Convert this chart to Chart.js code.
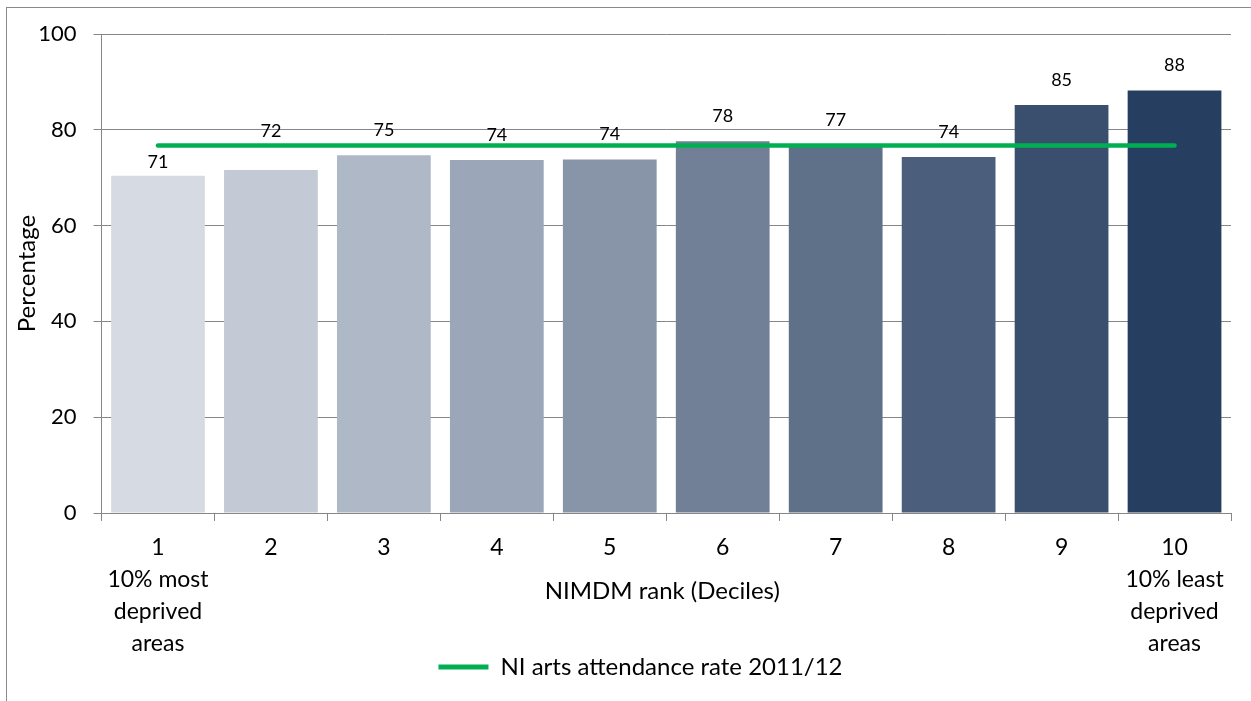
<!DOCTYPE html>
<html>
<head>
<meta charset="utf-8">
<script src="https://cdn.jsdelivr.net/npm/chart.js@4.4.1/dist/chart.umd.min.js"></script>
<style>
  html, body { margin: 0; padding: 0; background: #fff; overflow: hidden; }
  #frame { position: absolute; left: 6px; top: 7px; width: 1400px; height: 900px; border: 1px solid #8a8a8a; box-sizing: border-box; }
  #c { position: absolute; left: 0; top: 0; }
</style>
</head>
<body>
<div id="frame"></div>
<canvas id="c" width="1251" height="701"></canvas>
<script>
// ---- data ----
const categories = ['1', '2', '3', '4', '5', '6', '7', '8', '9', '10'];
const firstCategoryNote = ['10% most', 'deprived', 'areas'];
const lastCategoryNote = ['10% least', 'deprived', 'areas'];
const attendanceByDecile = [70.4, 71.6, 74.7, 73.7, 73.8, 77.6, 76.8, 74.3, 85.2, 88.2];
const valueLabels = ['71', '72', '75', '74', '74', '78', '77', '74', '85', '88'];
const niRate = 76.7;
const niRateLabel = 'NI arts attendance rate 2011/12';
const yTitle = 'Percentage';
const xTitle = 'NIMDM rank (Deciles)';
const yTicks = [0, 20, 40, 60, 80, 100];

// ---- styles ----
const barColors = ['#D6DBE3', '#C3CAD5', '#AEB8C6', '#9BA7B8', '#8895A9', '#718097', '#5F7089', '#4B5E7B', '#3A4E6E', '#263F60'];
const labelNudges = [11, -14, 0, 0, 0, 0, 0, 0, 0, 0]; // px shift of value labels vs default
const FONT = 'Lato, "Open Sans", sans-serif';
const GRID = '#868686';

const tickLabels = categories.map((c, i) => {
  if (i === 0) return [c, ...firstCategoryNote];
  if (i === categories.length - 1) return [c, ...lastCategoryNote];
  return c;
});

const extraText = {
  id: 'extraText',
  afterDatasetsDraw(chart) {
    const ctx = chart.ctx;
    const area = chart.chartArea;
    ctx.save();
    // value labels
    const meta = chart.getDatasetMeta(0);
    ctx.fillStyle = '#000';
    ctx.font = '18px ' + FONT;
    ctx.textAlign = 'center';
    ctx.textBaseline = 'middle';
    meta.data.forEach((el, i) => {
      ctx.fillText(valueLabels[i], el.x, el.y - 25 + labelNudges[i]);
    });
    // x title
    ctx.font = '24px ' + FONT;
    ctx.fillText(xTitle, (area.left + area.right) / 2 - 4, area.bottom + 78);
    // y title
    ctx.translate(27, (area.top + area.bottom) / 2);
    ctx.rotate(-Math.PI / 2);
    ctx.fillText(yTitle, 0, 0);
    ctx.restore();
  }
};

new Chart(document.getElementById('c'), {
  type: 'bar',
  data: {
    labels: tickLabels,
    datasets: [
      {
        type: 'bar',
        label: 'Deciles',
        data: attendanceByDecile,
        backgroundColor: barColors,
        borderWidth: 0,
        categoryPercentage: 0.83,
        barPercentage: 1,
        order: 2
      },
      {
        type: 'line',
        label: niRateLabel,
        data: categories.map(() => niRate),
        borderColor: '#00B050',
        backgroundColor: '#00B050',
        borderWidth: 4.5,
        borderCapStyle: 'round',
        pointRadius: 0,
        fill: false,
        order: 1
      }
    ]
  },
  options: {
    responsive: false,
    animation: false,
    layout: { padding: { left: 30, right: 0, top: 34, bottom: 12 } },
    plugins: {
      tooltip: { enabled: false },
      legend: {
        position: 'bottom',
        labels: {
          color: '#000',
          font: { family: FONT, size: 24 },
          boxWidth: 50,
          boxHeight: 5,
          padding: 0,
          generateLabels: () => [{
            text: niRateLabel, fillStyle: '#00B050', strokeStyle: '#00B050',
            lineWidth: 0, hidden: false, datasetIndex: 1, fontColor: '#000'
          }]
        }
      }
    },
    scales: {
      x: {
        grid: { display: true, drawOnChartArea: false, drawTicks: true, tickLength: 8, color: GRID, offset: true },
        border: { display: true, color: GRID, width: 1 },
        ticks: { color: '#000', font: { family: FONT, size: 23, lineHeight: 1.39 }, padding: 11, maxRotation: 0, autoSkip: false },
        afterFit(scale) { scale.height = 142; }
      },
      y: {
        min: 0, max: 100,
        afterBuildTicks(scale) { scale.ticks = yTicks.map(v => ({ value: v })); },
        grid: { color: GRID, tickLength: 8, lineWidth: 1 },
        border: { display: true, color: GRID, width: 1 },
        ticks: { color: '#000', font: { family: FONT, size: 22 }, padding: 17 },
        afterFit(scale) { scale.width = 71.5; }
      },
      yRightSpacer: {
        type: 'linear',
        position: 'right',
        display: true,
        grid: { display: false, drawTicks: false },
        border: { display: false },
        ticks: { display: false },
        afterFit(scale) { scale.width = 20; }
      }
    }
  },
  plugins: [extraText]
});
</script>
</body>
</html>
